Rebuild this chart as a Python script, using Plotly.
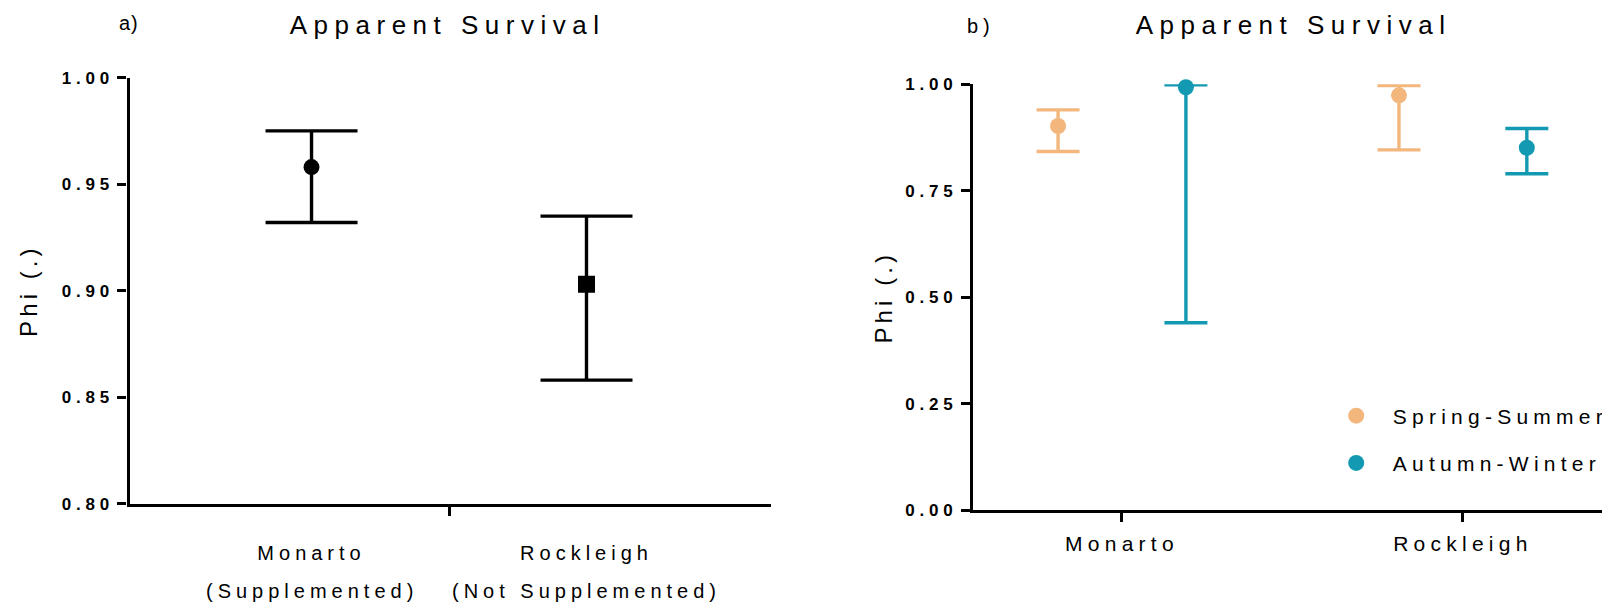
import plotly.graph_objects as go

W, H = 1602, 603
FONT = "Liberation Sans, Arial, sans-serif"
ORANGE = "#F3B77E"
TEAL = "#1399B2"

# ---- panel a: apparent survival per site ----
sites_a = ["Monarto", "Rockleigh"]
notes_a = ["(Supplemented)", "(Not Supplemented)"]
phi_a = [0.958, 0.903]
lo_a = [0.932, 0.858]
hi_a = [0.975, 0.935]
yticks_a = [0.80, 0.85, 0.90, 0.95, 1.00]

# ---- panel b: apparent survival per site and season ----
sites_b = ["Monarto", "Rockleigh"]
season_names = ["Spring-Summer", "Autumn-Winter"]
phi_spring = [0.902, 0.974]
lo_spring = [0.842, 0.846]
hi_spring = [0.940, 0.997]
phi_autumn = [0.993, 0.851]
lo_autumn = [0.440, 0.790]
hi_autumn = [0.999, 0.896]
yticks_b = [0.00, 0.25, 0.50, 0.75, 1.00]


def fx(px):
    return px / W


def fy(py):
    return 1 - py / H


def err(vals, lo, hi):
    return dict(type="data", symmetric=False,
                array=[h - v for v, h in zip(vals, hi)],
                arrayminus=[v - l for v, l in zip(vals, lo)])


fig = go.Figure()

ea = err(phi_a, lo_a, hi_a)
ea.update(width=46, thickness=3.4, color="black")
fig.add_trace(go.Scatter(
    x=list(range(len(sites_a))), y=phi_a, mode="markers",
    marker=dict(symbol=["circle", "square"], size=[16, 17], color="black",
                opacity=1, line=dict(width=0)),
    error_y=ea, cliponaxis=False, showlegend=False,
    xaxis="x", yaxis="y"))

for name, vals, lo, hi, col, grp, leg in [
    (season_names[0], phi_spring, lo_spring, hi_spring, ORANGE, "s", "legend"),
    (season_names[1], phi_autumn, lo_autumn, hi_autumn, TEAL, "w", "legend2"),
]:
    eb = err(vals, lo, hi)
    eb.update(width=21.5, thickness=3.4, color=col)
    fig.add_trace(go.Scatter(
        x=sites_b, y=vals, name=name, mode="markers",
        marker=dict(symbol="circle", size=16, color=col, opacity=1,
                    line=dict(width=0)),
        error_y=eb, cliponaxis=False, offsetgroup=grp,
        legend=leg, xaxis="x2", yaxis="y2"))

axis_common = dict(showline=True, linewidth=3.4, linecolor="black",
                   showgrid=False, zeroline=False, ticks="outside",
                   tickwidth=3, ticklen=9, tickcolor="black",
                   automargin=False)
ytick_font = dict(family=FONT, size=17, color="black", weight="bold")
xtick_font = dict(family=FONT, size=20, color="black")

fig.update_layout(
    width=W, height=H,
    margin=dict(l=0, r=0, t=0, b=0, autoexpand=False),
    paper_bgcolor="white", plot_bgcolor="white",
    scattermode="group", scattergap=0.25,
    font=dict(family=FONT, color="black"),
    xaxis=dict(domain=[fx(129.5), fx(771)], range=[-0.662, 1.671],
               tickvals=list(range(len(sites_a))), ticktext=sites_a,
               tickfont=xtick_font, ticklabelstandoff=29,
               minor=dict(tickvals=[i + 0.5 for i in range(len(sites_a) - 1)],
                          ticks="outside", ticklen=9, tickwidth=3,
                          tickcolor="black", showgrid=False),
               anchor="y", **{**axis_common, "ticks": ""}),
    yaxis=dict(domain=[fy(503.7), fy(77.6)], range=[0.80, 1.00],
               tickvals=yticks_a, tickformat=".2f", tickfont=ytick_font,
               anchor="x", **axis_common),
    xaxis2=dict(domain=[fx(973), 1.0], range=[-0.437, 1.408],
                type="category", categoryorder="array", categoryarray=sites_b,
                tickfont=dict(family=FONT, size=21, color="black"),
                ticklabelstandoff=4, anchor="y2", **axis_common),
    yaxis2=dict(domain=[fy(510), fy(84.3)], range=[0, 1.0],
                tickvals=yticks_b, tickformat=".2f", tickfont=ytick_font,
                anchor="x2", **axis_common),
    legend=dict(x=fx(1319.7), y=fy(416), xanchor="left", yanchor="middle",
                itemwidth=63, bgcolor="rgba(0,0,0,0)", borderwidth=0,
                font=dict(family=FONT, size=21, color="black")),
    legend2=dict(x=fx(1319.7), y=fy(463.3), xanchor="left", yanchor="middle",
                 itemwidth=63, bgcolor="rgba(0,0,0,0)", borderwidth=0,
                 font=dict(family=FONT, size=21, color="black")),
)

annotations = [
    dict(text="Apparent Survival", x=fx(447), y=fy(25), font=dict(size=26)),
    dict(text="Apparent Survival", x=fx(1293.6), y=fy(25), font=dict(size=26)),
    dict(text="a)", x=fx(129), y=fy(23), font=dict(size=20)),
    dict(text="b)", x=fx(981), y=fy(26), font=dict(size=20)),
    dict(text="Phi (.)", x=fx(29), y=fy(290.6), textangle=-90, font=dict(size=24)),
    dict(text="Phi (.)", x=fx(883), y=fy(297.2), textangle=-90, font=dict(size=24)),
]
for a in annotations:
    a.update(xref="paper", yref="paper", showarrow=False,
             xanchor="center", yanchor="middle")
    a["font"] = dict(family=FONT, color="black", **a["font"])
for i, note in enumerate(notes_a):
    annotations.append(dict(text=note, x=i, xref="x", y=fy(590.5), yref="paper",
                            showarrow=False, xanchor="center", yanchor="middle",
                            font=dict(family=FONT, size=20, color="black")))
fig.update_layout(annotations=annotations)

# spaced-out lettering for all chart text; legend entries are not clipped
css = (
    ".main-svg text{letter-spacing:0.25em;}"
    ".ytick text,.y2tick text{letter-spacing:0.28em;}"
    ".legendtext{letter-spacing:0.22em;}"
    "g.scrollbox{clip-path:none !important;}"
    "g.annotation[data-index='2'] text{letter-spacing:0.05em;}"
    "g.annotation[data-index='4'] text,g.annotation[data-index='5'] text{letter-spacing:0.17em;}"
)
post = ("var st=document.createElement('style');st.textContent=\"" + css +
        "\";document.head.appendChild(st);")

fig.write_html("out.html", post_script=post)
